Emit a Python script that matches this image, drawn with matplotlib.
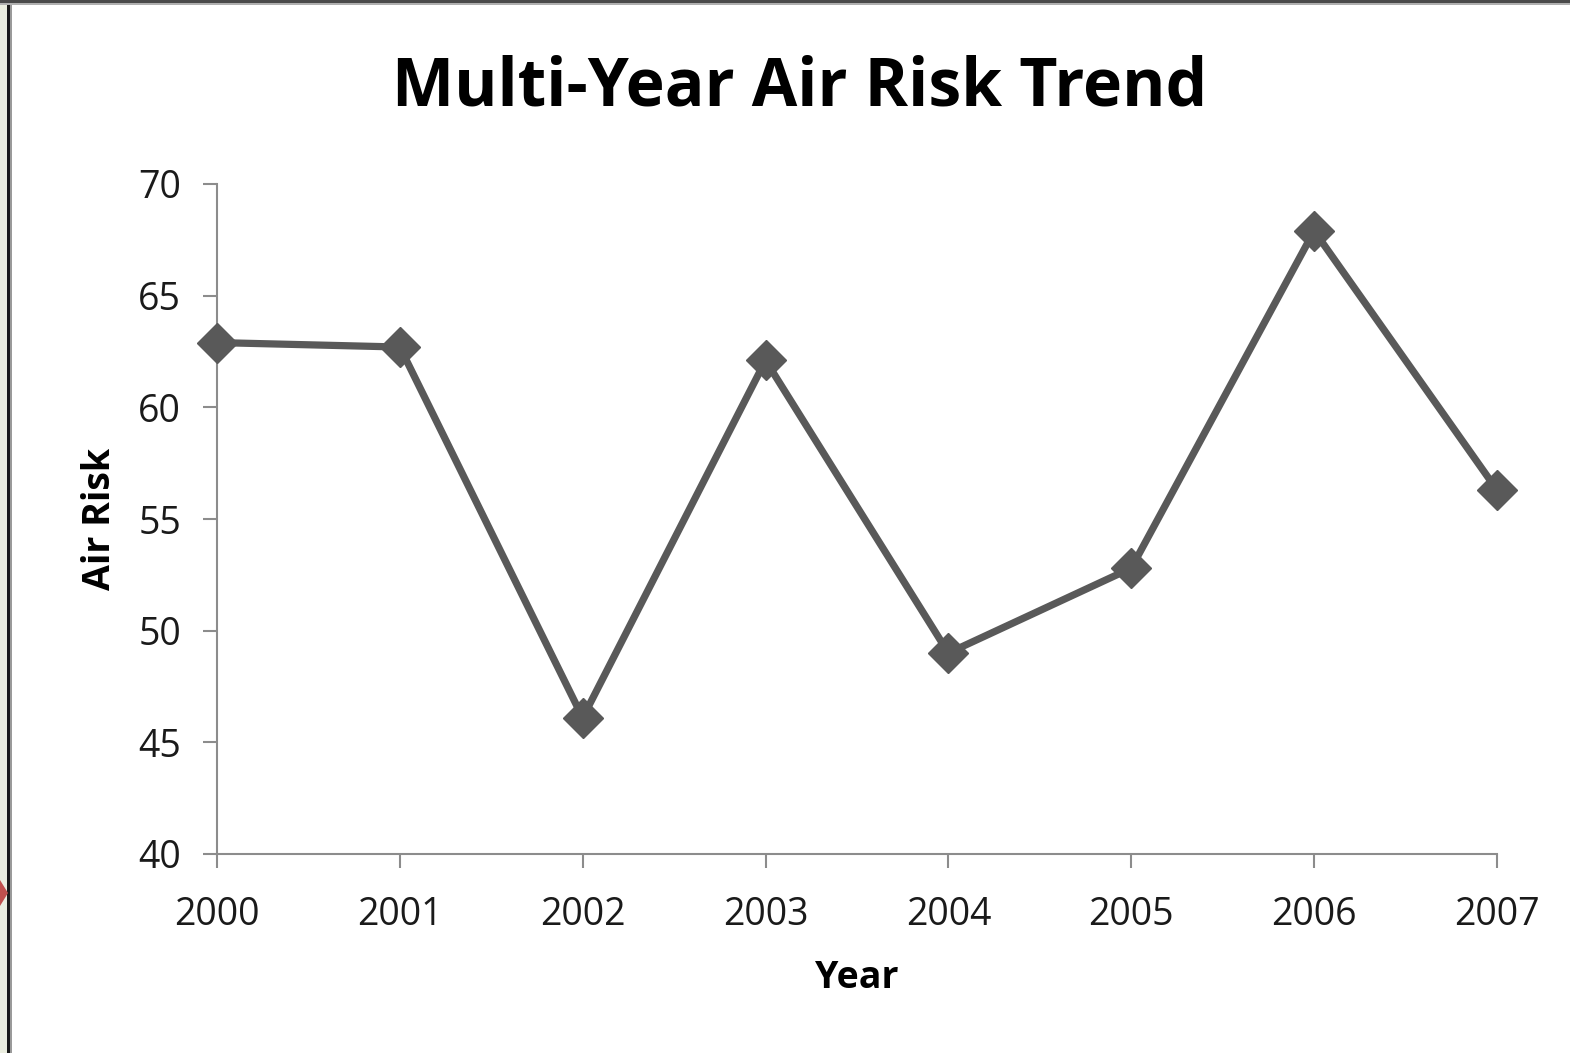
import matplotlib
matplotlib.use("Agg")
import matplotlib.pyplot as plt
from matplotlib.patches import Rectangle, Polygon

years = [2000, 2001, 2002, 2003, 2004, 2005, 2006, 2007]
air_risk = [62.9, 62.7, 46.1, 62.1, 49.0, 52.8, 67.9, 56.3]
y_ticks = [40, 45, 50, 55, 60, 65, 70]

W, H = 1570, 1053
plt.rcParams['font.family'] = ['Open Sans', 'DejaVu Sans']

fig = plt.figure(figsize=(W / 100, H / 100), dpi=100)
fig.patch.set_facecolor('white')

# window frame around the chart
fig.add_artist(Rectangle((0, 0), 8 / W, 1, transform=fig.transFigure,
                         facecolor='#ebeee0', edgecolor='none'))
fig.add_artist(Rectangle((7 / W, 0), 3 / W, 1, transform=fig.transFigure,
                         facecolor='#1a1a1a', edgecolor='none'))
fig.add_artist(Rectangle((10 / W, 0), 2 / W, 1, transform=fig.transFigure,
                         facecolor='#9a9a9a', edgecolor='none'))
fig.add_artist(Rectangle((0, 1 - 3 / H), 1, 3 / H, transform=fig.transFigure,
                         facecolor='#4a4a4a', edgecolor='none'))
fig.add_artist(Rectangle((0, 1 - 5 / H), 1, 2 / H, transform=fig.transFigure,
                         facecolor='#b0b0b0', edgecolor='none'))
fig.add_artist(Polygon([(0, 1 - 880 / H), (8 / W, 1 - 893 / H), (0, 1 - 906 / H)],
                       closed=True, transform=fig.transFigure,
                       facecolor='#c0504d', edgecolor='none', zorder=5))

ax = fig.add_axes([217 / W, 1 - 854 / H, (1497 - 217) / W, (854 - 184) / H])
ax.plot(years, air_risk, color='#595959', linewidth=5.2, marker='D',
        markersize=20, markerfacecolor='#595959', markeredgecolor='#595959',
        clip_on=False, zorder=3)

ax.set_xlim(years[0], years[-1])
ax.set_ylim(y_ticks[0], y_ticks[-1])
ax.set_xticks(years)
ax.set_xticklabels([str(y) for y in years])
ax.set_yticks(y_ticks)

for side in ('top', 'right'):
    ax.spines[side].set_visible(False)
for side in ('left', 'bottom'):
    ax.spines[side].set_color('#8c8c8c')
    ax.spines[side].set_linewidth(1.5)

ax.tick_params(axis='both', direction='out', length=10, width=1.5,
               color='#8c8c8c', labelsize=27, labelcolor='#1a1a1a')
ax.tick_params(axis='x', pad=20)
ax.tick_params(axis='y', pad=16)

ax.set_xlabel('Year', fontsize=27, fontweight='bold', labelpad=18)
ax.set_ylabel('Air Risk', fontsize=27, fontweight='bold', labelpad=14)

fig.text(800 / W, 1 - 88 / H, 'Multi-Year Air Risk Trend', fontsize=47.5,
         fontweight='bold', ha='center', va='center')

fig.savefig('out.png', dpi=100)
